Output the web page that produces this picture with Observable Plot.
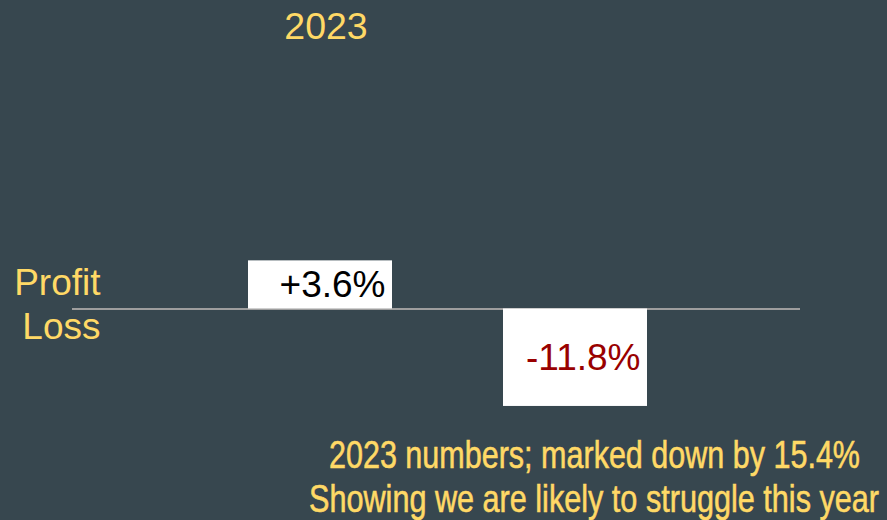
<!DOCTYPE html>
<html><head><meta charset="utf-8">
<script src="https://cdn.jsdelivr.net/npm/d3@7"></script>
<script src="https://cdn.jsdelivr.net/npm/@observablehq/plot@0.6"></script>
<style>
html,body{margin:0;padding:0;background:#37474f;}
#wrap{position:relative;width:887px;height:520px;overflow:hidden;background:#37474f;}
#wrap svg{position:absolute;left:0;top:0;}
.t{position:absolute;white-space:nowrap;color:#ffd966;line-height:1;}
#title{left:326px;top:8px;transform:translateX(-50%);font-size:37.5px;font-family:"Liberation Sans",Arial,sans-serif;}
.cap{font-family:"Liberation Sans",Arial,sans-serif;font-size:39px;transform-origin:0 0;-webkit-text-stroke:0.6px #ffd966;}
</style>
</head><body>
<div id="wrap">
  <div id="title" class="t"></div>
</div>
<script>
const titleText = "2023";
const categories = ["Reported", "Marked down"];
const values = [3.6, -11.8];
const valueLabels = ["+3.6%", "-11.8%"];
const labelColors = ["#000000", "#990000"];
const sideLabels = ["Profit", "Loss"];
const captionLines = ["2023 numbers; marked down by 15.4%", "Showing we are likely to struggle this year"];

const C = 3; // symlog constant
const data = categories.map((c, i) => ({
  cat: c,
  value: values[i],
  label: valueLabels[i],
  color: labelColors[i],
  mid: Math.sign(values[i]) * C * Math.expm1(Math.log1p(Math.abs(values[i]) / C) / 2)
}));

const wrap = document.getElementById("wrap");
document.getElementById("title").textContent = titleText;

const font = "'Liberation Sans', Arial, sans-serif";

const chart = Plot.plot({
  width: 887,
  height: 520,
  marginLeft: 72,
  marginRight: 87,
  marginTop: 0,
  marginBottom: 0,
  style: {background: "transparent", fontFamily: font},
  x: {type: "band", domain: categories, paddingInner: 0.434, paddingOuter: 0.639, align: 0.536, axis: null},
  y: {type: "symlog", constant: C, domain: [-15, 15], range: [417.9, 199.1], axis: null},
  marks: [
    Plot.ruleY([0], {stroke: "#9e9e9e", strokeWidth: 2}),
    Plot.barY(data, {x: "cat", y: "value", fill: "#ffffff"}),
    Plot.text(data, {x: "cat", y: "mid", text: "label", fill: "color", textAnchor: "end", dx: 65, fontSize: 37}),
    Plot.text(sideLabels.slice(0, 1), {y: [0], text: d => d, frameAnchor: "left", textAnchor: "end", dx: 28, dy: -26, fill: "#ffd966", fontSize: 37}),
    Plot.text(sideLabels.slice(1, 2), {y: [0], text: d => d, frameAnchor: "left", textAnchor: "end", dx: 28, dy: 18, fill: "#ffd966", fontSize: 37})
  ]
});
wrap.prepend(chart);

// caption lines: condensed to match the narrow display face of the original
const capBox = [{left: 329, right: 860, top: 435}, {left: 309, right: 879, top: 479}];
captionLines.forEach((s, i) => {
  const el = document.createElement("div");
  el.className = "t cap";
  el.textContent = s;
  el.style.left = capBox[i].left + "px";
  el.style.top = capBox[i].top + "px";
  wrap.appendChild(el);
  const w = el.getBoundingClientRect().width;
  el.style.transform = `scaleX(${(capBox[i].right - capBox[i].left) / w})`;
});
</script>
</body></html>
